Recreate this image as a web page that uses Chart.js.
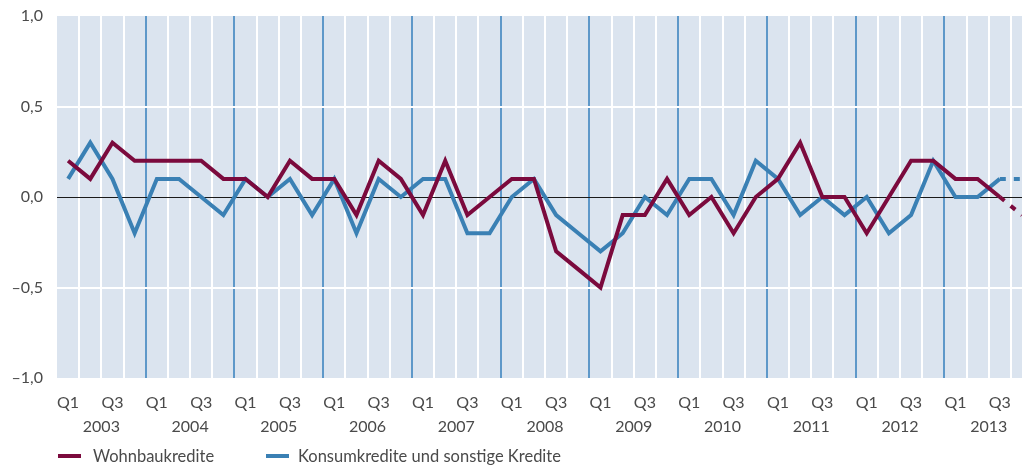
<!DOCTYPE html>
<html>
<head>
<meta charset="utf-8">
<script src="https://cdn.jsdelivr.net/npm/chart.js@4/dist/chart.umd.min.js"></script>
<style>
  html, body { margin: 0; padding: 0; background: #fff; width: 1022px; height: 468px; overflow: hidden; }
  #wrap { position: relative; width: 1022px; height: 468px; overflow: hidden; }
  #c { position: absolute; left: 0; top: 0; display: block; }
  .lg { position: absolute; font-family: Lato, "Open Sans", sans-serif; font-size: 16.5px; color: #4a4a4a; line-height: 20px; white-space: nowrap; }
  .sw { position: absolute; height: 4px; width: 23px; }
</style>
</head>
<body>
<div id="wrap">
  <canvas id="c" width="1037" height="468"></canvas>
  <div class="sw" id="sw1" style="left:58px; top:454px; background:#7b0a3d;"></div>
  <div class="lg" id="lg1" style="left:93px; top:446px;">Wohnbaukredite</div>
  <div class="sw" id="sw2" style="left:266px; top:454px; background:#3a80b4;"></div>
  <div class="lg" id="lg2" style="left:298px; top:446px;">Konsumkredite und sonstige Kredite</div>
</div>
<script>
// ---- data ----
const years = ['2003','2004','2005','2006','2007','2008','2009','2010','2011','2012','2013'];
const quarters = ['Q1','Q2','Q3','Q4'];
const categories = years.flatMap(y => quarters.map(q => q + ' ' + y));
const shownQuarterLabels = ['Q1', 'Q3'];

const wohnbau = [
  0.2, 0.1, 0.3, 0.2,
  0.2, 0.2, 0.2, 0.1,
  0.1, 0.0, 0.2, 0.1,
  0.1, -0.1, 0.2, 0.1,
  -0.1, 0.2, -0.1, 0.0,
  0.1, 0.1, -0.3, -0.4,
  -0.5, -0.1, -0.1, 0.1,
  -0.1, 0.0, -0.2, 0.0,
  0.1, 0.3, 0.0, 0.0,
  -0.2, 0.0, 0.2, 0.2,
  0.1, 0.1, 0.0, -0.1
];
const konsum = [
  0.1, 0.3, 0.1, -0.2,
  0.1, 0.1, 0.0, -0.1,
  0.1, 0.0, 0.1, -0.1,
  0.1, -0.2, 0.1, 0.0,
  0.1, 0.1, -0.2, -0.2,
  0.0, 0.1, -0.1, -0.2,
  -0.3, -0.2, 0.0, -0.1,
  0.1, 0.1, -0.1, 0.2,
  0.1, -0.1, 0.0, -0.1,
  0.0, -0.2, -0.1, 0.2,
  0.0, 0.0, 0.1, 0.1
];
const yTickValues = [-1.0, -0.5, 0.0, 0.5, 1.0];
const yTickLabels = ['\u20131,0', '\u20130,5', '0,0', '0,5', '1,0'];
const dashedFromIndex = 42;

// ---- styling ----
const PURPLE = '#7b0a3d';
const BLUE = '#3a80b4';
const PLOT_BG = '#dbe4ef';
const YEAR_LINE = '#5e98c9';
const FONT = { family: 'Lato, "Open Sans", sans-serif', size: 16 };
const TEXT = '#4a4a4a';

const bgPlugin = {
  id: 'plotBg',
  beforeDraw(chart) {
    const a = chart.chartArea, ctx = chart.ctx;
    ctx.save();
    ctx.fillStyle = PLOT_BG;
    ctx.fillRect(a.left, a.top, a.right - a.left, a.bottom - a.top);
    ctx.restore();
  },
  beforeDatasetsDraw(chart) {
    const a = chart.chartArea, ctx = chart.ctx;
    const y0 = Math.round(chart.scales.y.getPixelForValue(0)) + 0.5;
    ctx.save();
    ctx.strokeStyle = '#1a1a1a';
    ctx.lineWidth = 1;
    ctx.beginPath();
    ctx.moveTo(a.left, y0);
    ctx.lineTo(a.right, y0);
    ctx.stroke();
    ctx.restore();
  }
};

const dashSeg = { borderDash: c => c.p0DataIndex >= dashedFromIndex ? [6, 8] : undefined };

new Chart(document.getElementById('c'), {
  type: 'line',
  data: {
    labels: categories,
    datasets: [
      { label: 'Wohnbaukredite', data: wohnbau, borderColor: PURPLE, backgroundColor: PURPLE,
        borderWidth: 4, pointRadius: 0, tension: 0, borderJoinStyle: 'miter', borderCapStyle: 'butt', segment: dashSeg },
      { label: 'Konsumkredite und sonstige Kredite', data: konsum, borderColor: BLUE, backgroundColor: BLUE,
        borderWidth: 4, pointRadius: 0, tension: 0, borderJoinStyle: 'miter', borderCapStyle: 'butt', segment: dashSeg }
    ]
  },
  options: {
    responsive: false,
    animation: false,
    layout: { padding: { top: 16, right: 0, left: 0, bottom: 0 } },
    plugins: { legend: { display: false }, tooltip: { enabled: false } },
    scales: {
      x: {
        type: 'category',
        position: 'bottom',
        offset: true,
        border: { display: false },
        grid: {
          offset: true,
          drawTicks: false,
          lineWidth: 2,
          color: c => (c.index === 0 ? 'rgba(0,0,0,0)' : (c.index % 4 === 0 ? YEAR_LINE : '#ffffff'))
        },
        ticks: {
          autoSkip: false, maxRotation: 0, minRotation: 0, padding: 15,
          color: TEXT, font: FONT,
          callback: function (v, i) {
            const q = quarters[i % 4];
            return shownQuarterLabels.includes(q) ? q : '';
          }
        },
        afterFit: s => { s.height = 34; }
      },
      x2: {
        type: 'category',
        position: 'bottom',
        labels: years,
        offset: true,
        border: { display: false },
        grid: { display: false, drawTicks: false },
        ticks: { autoSkip: false, maxRotation: 0, padding: 5, color: TEXT, font: FONT },
        afterFit: s => { s.height = 56; }
      },
      y: {
        min: -1, max: 1,
        grace: 0,
        border: { display: false },
        afterBuildTicks: s => { s.ticks = yTickValues.map(v => ({ value: v })); },
        grid: {
          drawTicks: false,
          lineWidth: 2,
          color: c => (Math.abs(c.tick.value) === 0.5 ? '#ffffff' : 'rgba(0,0,0,0)')
        },
        ticks: {
          padding: 14, color: TEXT, font: FONT,
          callback: (v) => yTickLabels[yTickValues.indexOf(v)]
        },
        afterFit: s => { s.width = 57; s.paddingTop = 0; s.paddingBottom = 0; }
      }
    }
  },
  plugins: [bgPlugin]
});
</script>
</body>
</html>
